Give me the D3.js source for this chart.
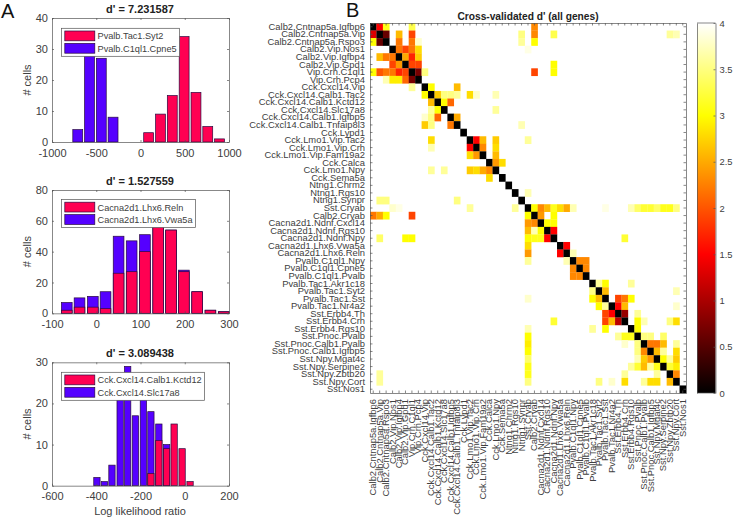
<!DOCTYPE html>
<html>
<head>
<meta charset="utf-8">
<script src="https://cdn.jsdelivr.net/npm/d3@7"></script>
<style>
  html, body { margin: 0; padding: 0; background: #fff; }
  svg { display: block; }
  text { font-family: "Liberation Sans", Arial, sans-serif; fill: #404040; }
  .domain, .tick line { stroke: #555; stroke-width: 0.7; }
</style>
</head>
<body>
<svg width="733" height="520"></svg>
<script>
// histogram values
var titles1 = "d' = 7.231587", titles2 = "d' = 1.527559", titles3 = "d' = 3.089438";

var bins1 = [-709, -576, -443, -310, 92, 226, 359, 493, 627, 760, 893];
var pink1 = [0, 0, 0, 0, 3, 9, 15, 34, 16, 5, 1];
var purple1 = [4, 34, 27, 8, 0, 0, 0, 0, 0, 0, 0];
var legend1 = ["Pvalb.Tac1.Syt2", "Pvalb.C1ql1.Cpne5"];

var bins2 = [-66.6, -37.8, -7.7, 21, 50.5, 80, 110, 140, 169, 198, 228, 258, 288];
var pink2 = [2, 4, 4, 3, 26, 27, 40, 60, 54, 27, 14, 2, 1];
var purple2 = [7, 10, 11, 14, 50, 47, 51, 56, 54, 28, 14, 2, 1];
var legend2 = ["Cacna2d1.Lhx6.Reln", "Cacna2d1.Lhx6.Vwa5a"];

var bins3 = [-397, -363, -329, -292, -258, -223, -187, -153, -117, -82, -48, -12, 24];
var pink3 = [0, 0, 0, 0, 0, 0, 0, 3, 11, 9, 15, 9, 1];
var purple3 = [2, 1, 5, 24, 29, 17, 22, 18, 15, 10, 0, 0, 0];
var legend3 = ["Cck.Cxcl14.Calb1.Kctd12", "Cck.Cxcl14.Slc17a8"];

var cellTypes = ["Calb2.Cntnap5a.Igfbp6", "Calb2.Cntnap5a.Vip", "Calb2.Cntnap5a.Rspo3", "Calb2.Vip.Nos1",
  "Calb2.Vip.Igfbp4", "Calb2.Vip.Gpd1", "Vip.Crh.C1ql1", "Vip.Crh.Pcp4", "Cck.Cxcl14.Vip",
  "Cck.Cxcl14.Calb1.Tac2", "Cck.Cxcl14.Calb1.Kctd12", "Cck.Cxcl14.Slc17a8", "Cck.Cxcl14.Calb1.Igfbp5",
  "Cck.Cxcl14.Calb1.Tnfaip8l3", "Cck.Lypd1", "Cck.Lmo1.Vip.Tac2", "Cck.Lmo1.Vip.Crh", "Cck.Lmo1.Vip.Fam19a2",
  "Cck.Calca", "Cck.Lmo1.Npy", "Cck.Sema5a", "Ntng1.Chrm2", "Ntng1.Rgs10", "Ntng1.Synpr", "Sst.Cryab",
  "Calb2.Cryab", "Cacna2d1.Ndnf.Cxcl14", "Cacna2d1.Ndnf.Rgs10", "Cacna2d1.Ndnf.Npy", "Cacna2d1.Lhx6.Vwa5a",
  "Cacna2d1.Lhx6.Reln", "Pvalb.C1ql1.Npy", "Pvalb.C1ql1.Cpne5", "Pvalb.C1ql1.Pvalb", "Pvalb.Tac1.Akr1c18",
  "Pvalb.Tac1.Syt2", "Pvalb.Tac1.Sst", "Pvalb.Tac1.Nr4a2", "Sst.Erbb4.Th", "Sst.Erbb4.Crh", "Sst.Erbb4.Rgs10",
  "Sst.Pnoc.Pvalb", "Sst.Pnoc.Calb1.Pvalb", "Sst.Pnoc.Calb1.Igfbp5", "Sst.Npy.Mgat4c", "Sst.Npy.Serpine2",
  "Sst.Npy.Zbtb20", "Sst.Npy.Cort", "Sst.Nos1"];

// one line per row: [column, d'], anything not listed is saturated at 4
var dprimeRows = [
  [[0,0],[1,1.5],[2,3.1],[6,3.3],[25,2.3]],
  [[0,1.3],[1,0],[2,.6],[4,2.6],[6,1.9],[23,3.5],[25,2.3],[28,3.3],[46,3.6],[47,3.7]],
  [[0,3],[1,.6],[2,0],[4,2.2],[6,2.2],[7,3.8],[23,3.6],[25,3]],
  [[3,0],[4,2.2],[5,1.9],[6,2.2],[7,2.8],[24,3.9]],
  [[1,2.6],[2,2.2],[3,2.2],[4,0],[5,2.5],[6,1.7],[7,2.7]],
  [[3,1.9],[4,2.4],[5,0],[6,1.9],[7,1.9],[28,3]],
  [[0,3],[1,2],[2,2.2],[3,2.2],[4,1.7],[5,1.9],[6,0],[7,.7],[8,3.5],[25,1.9],[28,3]],
  [[2,3.7],[3,2.9],[4,2.9],[5,2.1],[6,.7],[7,0]],
  [[6,3.6],[8,0],[9,3],[13,2.6]],
  [[8,3],[9,0],[10,2.7],[11,3.5],[12,3.5],[13,3.6],[15,2.8],[16,3.8],[19,3.7]],
  [[9,2.6],[10,0],[11,3],[12,2.1]],
  [[9,3.6],[10,3],[11,0],[19,3.6]],
  [[8,3.8],[9,3.5],[10,2.1],[12,0],[13,2.5]],
  [[8,2.7],[9,3.5],[12,2.2],[13,0],[23,3.7]],
  [[14,0]],
  [[9,2.8],[15,0],[16,1.5],[17,2.6],[19,2.7],[24,3.6]],
  [[9,3.7],[15,1.5],[16,0],[17,2.3],[19,2.8]],
  [[15,2.8],[16,2.4],[17,0],[19,2.6]],
  [[18,0],[19,2.4],[20,2.8]],
  [[9,3.6],[11,3.6],[15,2.7],[16,2.8],[17,2.5],[18,2.3],[19,0]],
  [[18,2.8],[20,0]],
  [[21,0]],
  [[22,0],[24,3.7]],
  [[1,3.5],[2,3.5],[13,3.5],[23,0]],
  [[3,3.8],[4,3.9],[15,3.6],[22,3.6],[24,0],[25,3],[26,2.3],[27,2.6],[28,3.1],[29,2.8],[30,2.5],[31,3.7],[36,3.9],[40,3.7],[41,3.4],[42,3.2],[43,3.2],[44,3.4],[45,3.1],[46,3.1],[47,3.5]],
  [[0,2.2],[1,2.5],[2,3],[6,1.9],[24,3],[25,0],[26,2.4],[28,3]],
  [[24,2.4],[25,2.3],[26,0],[27,3],[28,3]],
  [[24,2.6],[25,3.7],[26,3],[27,0],[28,1.5]],
  [[1,3.4],[5,3],[6,3],[24,3],[25,3.1],[26,3.1],[27,1.5],[28,0],[39,3.2]],
  [[24,2.8],[29,0],[30,1.5]],
  [[24,2.4],[29,1.5],[30,0],[31,3.7]],
  [[24,3.6],[30,3.7],[31,0],[32,2.3],[33,2.3]],
  [[31,2.3],[32,0],[33,2.3]],
  [[31,2.3],[32,2.3],[33,0]],
  [[34,0],[35,3.6],[36,3],[40,3.6]],
  [[34,3.5],[35,0],[36,2.6],[47,3.7]],
  [[24,3.8],[34,3],[35,2.6],[36,0],[38,1.9],[39,2.2],[40,3]],
  [[35,3],[36,3.6],[37,0],[38,1.5],[39,2.6],[47,3.8]],
  [[36,1.9],[37,1.5],[38,0],[39,.9],[41,3.6]],
  [[28,3.2],[36,1.9],[37,2.6],[38,1.1],[39,0],[41,3],[42,3.7],[46,3.5],[47,2.8]],
  [[24,3.7],[34,3.6],[36,3],[40,0],[41,3]],
  [[24,3],[38,3.6],[39,3.1],[40,3.1],[41,0],[42,3.5],[43,3.5],[45,3.4]],
  [[24,2.9],[39,3.8],[41,3.5],[42,0],[43,2.2],[44,2.2],[45,2.6],[47,3.6]],
  [[24,3],[41,3.5],[42,2.3],[43,0],[44,2.6],[45,3.6],[47,2.8]],
  [[24,3.4],[41,3.7],[42,2.7],[43,2.4],[44,0],[45,3],[46,3.6],[47,2.7]],
  [[24,3.1],[40,3.6],[41,3.2],[42,2.6],[43,3.6],[44,3.1],[45,0],[46,3.2],[47,2.9]],
  [[1,3.6],[24,3.1],[39,3.6],[44,3.6],[46,0],[47,2.3]],
  [[1,3.6],[24,3.5],[35,3.5],[37,3.8],[39,2.8],[42,3.6],[43,2.8],[44,2.8],[46,2.6],[47,0]],
  [[48,0]]
];

var colorbarTicks = [0, 0.5, 1, 1.5, 2, 2.5, 3, 3.5, 4];

var svg = d3.select("svg");
var pinkColor = "#ff0052", purpleColor = "#5500ff", barEdge = "#2a0a40";
var labelFont = '"Liberation Sans", Arial, sans-serif';

function histPanel(opt) {
  var left = 52, right = 229;
  var x = d3.scaleLinear().domain(opt.xDomain).range([left, right]);
  var y = d3.scaleLinear().domain(opt.yDomain).range([opt.bottom, opt.top]);
  var g = svg.append("g");
  var step = opt.bins[1] - opt.bins[0];

  function bars(values, color) {
    g.selectAll(null)
      .data(opt.bins.map(function (b, i) { return { b: b, v: values[i] }; }).filter(function (d) { return d.v > 0; }))
      .enter().append("rect")
      .attr("x", function (d) { return x(d.b - step * 0.42); })
      .attr("width", x(step * 0.84) - x(0))
      .attr("y", function (d) { return y(d.v); })
      .attr("height", function (d) { return y(0) - y(d.v); })
      .attr("fill", color)
      .attr("stroke", barEdge)
      .attr("stroke-width", 0.7);
  }
  bars(opt.purple, purpleColor);
  bars(opt.pink, pinkColor);

  g.append("g").attr("transform", "translate(0," + opt.bottom + ")")
    .call(d3.axisBottom(x).tickValues(opt.xTicks).tickFormat(String).tickSizeInner(-2).tickSizeOuter(0).tickPadding(7));
  g.append("g").attr("transform", "translate(0," + opt.top + ")")
    .call(d3.axisTop(x).tickValues(opt.xTicks).tickSizeInner(-2).tickSizeOuter(0).tickFormat(""));
  g.append("g").attr("transform", "translate(" + left + ",0)")
    .call(d3.axisLeft(y).tickValues(opt.yTicks).tickFormat(String).tickSizeInner(-2).tickSizeOuter(0).tickPadding(4));
  g.append("g").attr("transform", "translate(" + right + ",0)")
    .call(d3.axisRight(y).tickValues(opt.yTicks).tickSizeInner(-2).tickSizeOuter(0).tickFormat(""));
  g.selectAll(".tick text").style("font-family", labelFont).style("font-size", "11px");

  g.append("text").attr("x", 140).attr("y", opt.top - 5).attr("text-anchor", "middle")
    .attr("font-size", 11).attr("font-weight", "bold").style("fill", "#222").text(opt.title);
  g.append("text").attr("transform", "translate(31," + (opt.top + opt.bottom) / 2 + ") rotate(-90)")
    .attr("text-anchor", "middle").attr("font-size", 11).text("# cells");

  // legend box sits over the bars
  var lg = g.append("g").attr("transform", "translate(61.5," + opt.legendTop + ")");
  lg.append("rect").attr("width", opt.legendWidth).attr("height", 28)
    .attr("fill", "#fff").attr("stroke", "#555").attr("stroke-width", 0.7);
  [pinkColor, purpleColor].forEach(function (c, i) {
    lg.append("rect").attr("x", 3.3).attr("y", 2.7 + i * 12.4).attr("width", 30).attr("height", 9.8)
      .attr("fill", c).attr("stroke", barEdge).attr("stroke-width", 0.7);
    lg.append("text").attr("x", 36).attr("y", 11 + i * 12.4).attr("font-size", 9.2).text(opt.legend[i]);
  });
}

histPanel({ bins: bins1, pink: pink1, purple: purple1, legend: legend1, title: titles1,
  xDomain: [-1000, 1000], yDomain: [0, 40], xTicks: [-1000, -500, 0, 500, 1000], yTicks: [0, 10, 20, 30, 40],
  top: 18, bottom: 142, legendTop: 28.3, legendWidth: 118 });
histPanel({ bins: bins2, pink: pink2, purple: purple2, legend: legend2, title: titles2,
  xDomain: [-100, 300], yDomain: [0, 80], xTicks: [-100, 0, 100, 200, 300], yTicks: [0, 20, 40, 60, 80],
  top: 190, bottom: 313.3, legendTop: 199.5, legendWidth: 134 });
histPanel({ bins: bins3, pink: pink3, purple: purple3, legend: legend3, title: titles3,
  xDomain: [-600, 200], yDomain: [0, 30], xTicks: [-600, -400, -200, 0, 200], yTicks: [0, 10, 20, 30],
  top: 362.3, bottom: 485.7, legendTop: 372.3, legendWidth: 143 });

svg.append("text").attr("x", 140).attr("y", 515).attr("text-anchor", "middle")
  .attr("font-size", 11).text("Log likelihood ratio");
svg.append("text").attr("x", 1).attr("y", 18).attr("font-size", 20).style("fill", "#111").text("A");
svg.append("text").attr("x", 346).attr("y", 17).attr("font-size", 20).style("fill", "#111").text("B");

// heatmap, MATLAB hot colormap over 0..4
var hot = d3.scaleLinear().domain([0, 1.5, 3, 4]).range(["#000000", "#ff0000", "#ffff00", "#ffffff"]).clamp(true);
var hx = d3.scaleBand().domain(cellTypes).range([370, 686]);
var hy = d3.scaleBand().domain(cellTypes).range([23, 393]);

var heat = svg.append("g");
dprimeRows.forEach(function (row, r) {
  heat.selectAll(null).data(row).enter().append("rect")
    .attr("x", function (d) { return hx(cellTypes[d[0]]); })
    .attr("y", hy(cellTypes[r]))
    .attr("width", hx.bandwidth() + 0.2)
    .attr("height", hy.bandwidth() + 0.2)
    .attr("fill", function (d) { return hot(d[1]); });
});

var yAxisL = heat.append("g").attr("transform", "translate(370,0)")
  .call(d3.axisLeft(hy).tickSizeInner(-2.5).tickSizeOuter(0).tickPadding(5));
heat.append("g").attr("transform", "translate(686,0)")
  .call(d3.axisRight(hy).tickSizeInner(-2.5).tickSizeOuter(0).tickFormat(""));
var xAxisB = heat.append("g").attr("transform", "translate(0,393)")
  .call(d3.axisBottom(hx).tickSizeInner(-2.5).tickSizeOuter(0).tickPadding(5));
heat.append("g").attr("transform", "translate(0,23)")
  .call(d3.axisTop(hx).tickSizeInner(-2.5).tickSizeOuter(0).tickFormat(""));

yAxisL.selectAll("text").style("font-size", "9.4px").style("font-family", labelFont);
xAxisB.selectAll("text")
  .style("font-size", "9.4px").style("font-family", labelFont)
  .attr("text-anchor", "end")
  .attr("dy", "0.32em").attr("y", 0).attr("x", 0)
  .attr("transform", "translate(0,6) rotate(-90)");

svg.append("text").attr("x", 528).attr("y", 20).attr("text-anchor", "middle")
  .attr("font-size", 10.2).attr("font-weight", "bold").style("fill", "#222")
  .text("Cross-validated d' (all genes)");

// colorbar
var cy = d3.scaleLinear().domain([0, 4]).range([393, 23]);
var grad = svg.append("defs").append("linearGradient").attr("id", "hotbar")
  .attr("x1", 0).attr("x2", 0).attr("y1", 1).attr("y2", 0);
hot.domain().forEach(function (v) {
  grad.append("stop").attr("offset", v / 4).attr("stop-color", hot(v));
});
svg.append("rect").attr("x", 697).attr("y", 23).attr("width", 18.5).attr("height", 370).attr("fill", "url(#hotbar)");
var cbAxis = svg.append("g").attr("transform", "translate(715.5,0)")
  .call(d3.axisRight(cy).tickValues(colorbarTicks).tickFormat(d3.format("~g")).tickSizeInner(-2).tickSizeOuter(0).tickPadding(4));
cbAxis.selectAll("text").style("font-size", "9.4px").style("font-family", labelFont);
svg.append("g").attr("transform", "translate(697,0)")
  .call(d3.axisLeft(cy).tickValues([]).tickSizeOuter(0));
svg.append("path").attr("d", d3.line()([[697, 23], [715.5, 23]])).attr("stroke", "#555").attr("stroke-width", 0.7);
svg.append("path").attr("d", d3.line()([[697, 393], [715.5, 393]])).attr("stroke", "#555").attr("stroke-width", 0.7);

svg.selectAll(".tick text").style("fill", "#404040");
</script>
</body>
</html>
